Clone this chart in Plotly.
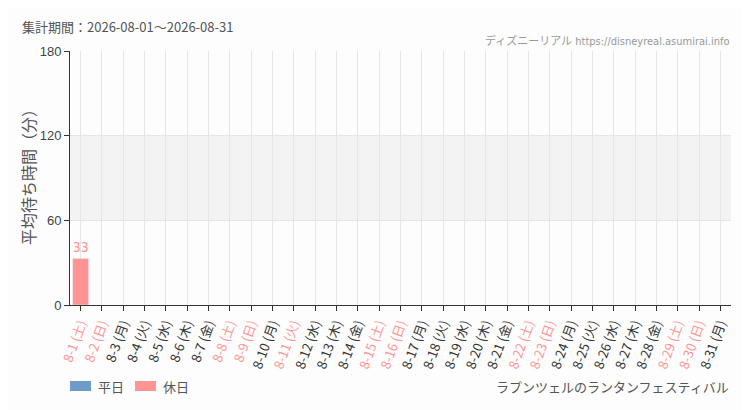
import plotly.graph_objects as go

categories = ["8-1", "8-2", "8-3", "8-4", "8-5", "8-6", "8-7", "8-8", "8-9", "8-10",
              "8-11", "8-12", "8-13", "8-14", "8-15", "8-16", "8-17", "8-18", "8-19", "8-20",
              "8-21", "8-22", "8-23", "8-24", "8-25", "8-26", "8-27", "8-28", "8-29", "8-30", "8-31"]
weekdays = ["土", "日", "月", "火", "水", "木", "金", "土", "日", "月",
            "火", "水", "木", "金", "土", "日", "月", "火", "水", "木",
            "金", "土", "日", "月", "火", "水", "木", "金", "土", "日", "月"]
holiday = [1, 1, 0, 0, 0, 0, 0, 1, 1, 0,
           1, 0, 0, 0, 1, 1, 0, 0, 0, 0,
           0, 1, 1, 0, 0, 0, 0, 0, 1, 1, 0]
wait_minutes = [33] + [None] * 30
y_ticks = [0, 60, 120, 180]
legend_names = ["平日", "休日"]

WEEKDAY_COLOR = "#6f9bc9"
HOLIDAY_COLOR = "#ff9494"
FONT = "Noto Sans CJK JP"
NARROW = "DejaVu Sans Condensed, Liberation Sans Narrow, " + FONT

xs = list(range(len(categories)))
ticktext = []
for c, w, h in zip(categories, weekdays, holiday):
    col = HOLIDAY_COLOR if h else "#333333"
    ticktext.append(f"<span style='color:{col}'>{c} ({w})</span>")

wd_y = [v if not h else None for v, h in zip(wait_minutes, holiday)]
hd_y = [v if h else None for v, h in zip(wait_minutes, holiday)]

fig = go.Figure()
for name, ys, col in [(legend_names[0], wd_y, WEEKDAY_COLOR), (legend_names[1], hd_y, HOLIDAY_COLOR)]:
    fig.add_trace(go.Bar(x=xs, y=ys, name=name, marker_color=col, showlegend=False,
                         width=0.75, text=[str(v) if v is not None else "" for v in ys],
                         textposition="outside",
                         textfont=dict(color=col, size=14, family=NARROW),
                         cliponaxis=False))

fig.add_shape(type="rect", xref="paper", yref="y", x0=0, x1=1, y0=60, y1=120,
              fillcolor="#f3f3f3", line_width=0, layer="below")

# legend drawn manually (rect swatches + labels)
legend_items = [(legend_names[0], WEEKDAY_COLOR, 0.0), (legend_names[1], HOLIDAY_COLOR, 0.0983)]
for name, col, lx in legend_items:
    fig.add_shape(type="rect", xref="paper", yref="paper", x0=lx, x1=lx + 0.0318,
                  y0=-0.3386, y1=-0.2992, fillcolor=col, line_width=0)
    fig.add_annotation(text=name, xref="paper", yref="paper", x=lx + 0.0393, y=-0.319,
                       xanchor="left", yanchor="middle", showarrow=False,
                       font=dict(size=13, color="#555555"))

fig.update_layout(
    width=742, height=402,
    margin=dict(l=62, r=19, t=43, b=105),
    paper_bgcolor="#fcfdfc", plot_bgcolor="#fcfdfc",
    font=dict(family=FONT, color="#333333", size=13),
    barmode="overlay",
    showlegend=False,
    xaxis=dict(tickmode="array", tickvals=xs, ticktext=ticktext, tickangle=-70,
               range=[-0.5, len(categories) - 0.5], showgrid=True, gridcolor="#e6e6e6",
               ticks="outside", ticklen=5, tickcolor="#333333",
               showline=True, linecolor="#333333", linewidth=1, automargin=False,
               tickfont=dict(size=13)),
    yaxis=dict(range=[0, 180], tickvals=y_ticks, showgrid=True, gridcolor="#e6e6e6",
               ticks="outside", ticklen=5, tickcolor="#333333",
               showline=True, linecolor="#333333", linewidth=1, zeroline=False,
               automargin=False,
               tickfont=dict(size=13, family="Liberation Sans, Arial", color="#444444")),
)

fig.add_annotation(text="平均待ち時間（分）", xref="paper", yref="paper", x=-0.0635, y=0.52,
                   xanchor="center", yanchor="middle", textangle=-90, showarrow=False,
                   font=dict(size=16, color="#555555"))
fig.add_annotation(text="集計期間：2026-08-01～2026-08-31", xref="paper", yref="paper",
                   x=-0.0756, y=1.095, xanchor="left", yanchor="middle",
                   showarrow=False, font=dict(size=13, color="#555555"))
fig.add_annotation(text="ディズニーリアル https://disneyreal.asumirai.info", xref="paper", yref="paper",
                   x=1.0, y=1.04, xanchor="right", yanchor="middle",
                   showarrow=False, font=dict(size=11, color="#999999", family=NARROW))
fig.add_annotation(text="ラプンツェルのランタンフェスティバル", xref="paper", yref="paper",
                   x=1.0, y=-0.319, xanchor="right", yanchor="middle",
                   showarrow=False, font=dict(size=13, color="#555555"))

fig.write_html("out.html")
